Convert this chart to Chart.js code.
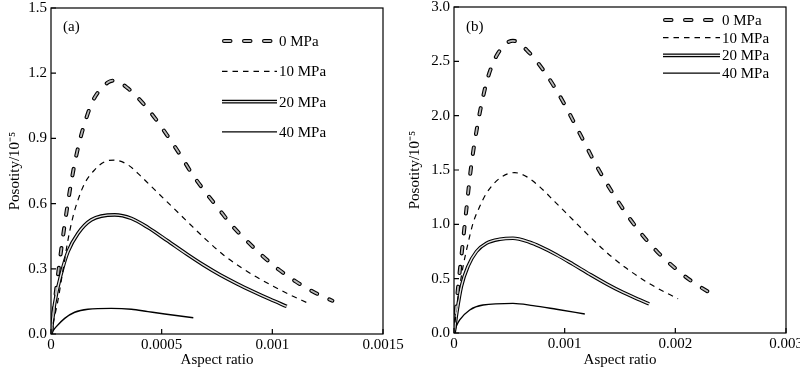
<!DOCTYPE html>
<html>
<head>
<meta charset="utf-8">
<script src="https://cdn.jsdelivr.net/npm/chart.js@4/dist/chart.umd.min.js"></script>
<style>
  body { margin: 0; background: #fff; overflow: hidden; }
  canvas { position: absolute; top: 0; }
  #left { left: 0; }
  #right { left: 400px; }
</style>
</head>
<body>
<canvas id="left" width="420" height="370"></canvas>
<canvas id="right" width="400" height="370"></canvas>
<script>
const names = ['0 MPa', '10 MPa', '20 MPa', '40 MPa'];

// panel (a)
const aX0 = [0, 0.0000136, 0.000024, 0.0000393, 0.0000497, 0.0000648, 0.0000843, 0.000107, 0.00013, 0.00016, 0.00019, 0.000258, 0.000288, 0.000348, 0.000416, 0.000476, 0.000529, 0.000589, 0.000636, 0.000696, 0.000756, 0.000816, 0.000884, 0.000956, 0.001027, 0.001107, 0.001193, 0.001271];
const aY0 = [0, 0.12, 0.21, 0.335, 0.415, 0.525, 0.655, 0.785, 0.89, 0.995, 1.075, 1.158, 1.166, 1.13, 1.061, 0.985, 0.908, 0.816, 0.739, 0.655, 0.578, 0.501, 0.429, 0.359, 0.298, 0.241, 0.19, 0.153];
const aX10 = [0, 0.000012, 0.0000316, 0.0000542, 0.0000768, 0.0000994, 0.000122, 0.000152, 0.000197, 0.000243, 0.000288, 0.000348, 0.000408, 0.000468, 0.000553, 0.000628, 0.000703, 0.000778, 0.000854, 0.000929, 0.001004, 0.00108, 0.001163];
const aY10 = [0, 0.06, 0.156, 0.294, 0.433, 0.54, 0.617, 0.693, 0.755, 0.793, 0.80, 0.778, 0.724, 0.664, 0.58, 0.505, 0.432, 0.365, 0.309, 0.262, 0.22, 0.18, 0.141];
const aX20 = [0, 0.0000166, 0.0000467, 0.0000768, 0.000122, 0.000182, 0.000288, 0.000363, 0.000438, 0.000525, 0.000613, 0.000688, 0.000764, 0.000839, 0.000914, 0.000989, 0.001065];
const aY20 = [0, 0.141, 0.279, 0.379, 0.463, 0.525, 0.548, 0.532, 0.49, 0.43, 0.368, 0.318, 0.272, 0.232, 0.195, 0.16, 0.127];
const aX40 = [0, 0.000009, 0.000024, 0.0000618, 0.000107, 0.000167, 0.000272, 0.000363, 0.000438, 0.000514, 0.000643];
const aY40 = [0, 0.015, 0.034, 0.072, 0.1, 0.114, 0.118, 0.114, 0.103, 0.092, 0.075];
const aXTicks = [0, 0.0005, 0.001, 0.0015];
const aYTicks = [0, 0.3, 0.6, 0.9, 1.2, 1.5];

// panel (b)
const bX0 = [0, 0.0000154, 0.0000362, 0.000076, 0.000112, 0.000157, 0.000217, 0.000262, 0.000307, 0.000398, 0.000533, 0.000684, 0.000805, 0.000895, 0.001001, 0.001091, 0.001182, 0.001272, 0.001378, 0.001483, 0.001588, 0.001709, 0.001839, 0.00198, 0.002131, 0.002296, 0.00234];
const bY0 = [0, 0.19, 0.415, 0.795, 1.14, 1.55, 1.94, 2.17, 2.355, 2.575, 2.689, 2.575, 2.422, 2.284, 2.10, 1.925, 1.745, 1.568, 1.38, 1.21, 1.053, 0.893, 0.745, 0.612, 0.488, 0.38, 0.355];
const bX10 = [0, 0.0000217, 0.0000515, 0.0000814, 0.000127, 0.000172, 0.000232, 0.000293, 0.000413, 0.000549, 0.000655, 0.000775, 0.00091, 0.001076, 0.001227, 0.001392, 0.001559, 0.001739, 0.00192, 0.002025];
const bY10 = [0, 0.212, 0.426, 0.61, 0.826, 1.01, 1.163, 1.286, 1.424, 1.476, 1.439, 1.345, 1.209, 1.04, 0.887, 0.73, 0.595, 0.47, 0.368, 0.315];
const bX20 = [0, 0.0000271, 0.0000669, 0.000127, 0.000203, 0.000293, 0.000413, 0.000533, 0.000684, 0.000775, 0.000926, 0.001076, 0.001227, 0.001378, 0.001528, 0.001679, 0.001763];
const bY20 = [0, 0.2, 0.43, 0.615, 0.75, 0.826, 0.863, 0.872, 0.835, 0.797, 0.72, 0.632, 0.54, 0.452, 0.373, 0.305, 0.268];
const bX40 = [0, 0.0000217, 0.0000515, 0.000142, 0.000262, 0.000533, 0.000714, 0.000926, 0.001182];
const bY40 = [0, 0.064, 0.12, 0.212, 0.258, 0.273, 0.252, 0.218, 0.175];
const bXTicks = [0, 0.001, 0.002, 0.003];
const bYTicks = [0, 0.5, 1.0, 1.5, 2.0, 2.5, 3.0];

// line looks: each series is one or two stacked strokes (outer first)
const looks = [
  [{ color: '#000', width: 4, dash: [6.5, 13.5], cap: 'round' }, { color: '#b8b8b8', width: 1.8, dash: [6.5, 13.5], cap: 'round' }],
  [{ color: '#000', width: 1.2, dash: [5.5, 5] }],
  [{ color: '#000', width: 3.6 }, { color: '#e6e6e6', width: 1.4 }],
  [{ color: '#000', width: 1.4 }]
];

const FONT = "'Liberation Serif', 'Times New Roman', serif";
Chart.defaults.font.family = FONT;
Chart.defaults.font.size = 15;
Chart.defaults.color = '#000';

function zip(xs, ys) {
  return xs.map((x, i) => ({ x: x, y: ys[i] }));
}

function makeDatasets(series) {
  const out = [];
  series.forEach((s, i) => {
    looks[i].forEach((lk, j) => {
      out.push({
        label: names[i],
        data: zip(s[0], s[1]),
        borderColor: lk.color,
        borderWidth: lk.width,
        borderDash: lk.dash || [],
        borderCapStyle: lk.cap || 'butt',
        cubicInterpolationMode: 'monotone',
        tension: 0.4,
        pointRadius: 0,
        fill: false,
        order: looks[i].length - j
      });
    });
  });
  return out;
}

const frame = {
  id: 'frame',
  afterDraw(chart, args, opts) {
    const { ctx, chartArea: a, scales: { x, y } } = chart;
    ctx.save();
    ctx.strokeStyle = '#000';
    ctx.lineWidth = 1.2;
    ctx.strokeRect(a.left, a.top, a.right - a.left, a.bottom - a.top);
    ctx.beginPath();
    x.ticks.forEach(t => {
      const px = x.getPixelForValue(t.value);
      ctx.moveTo(px, a.bottom);
      ctx.lineTo(px, a.bottom - 5);
    });
    y.ticks.forEach(t => {
      const py = y.getPixelForValue(t.value);
      ctx.moveTo(a.left, py);
      ctx.lineTo(a.left + 5, py);
    });
    ctx.stroke();

    ctx.fillStyle = '#000';
    ctx.font = '15px ' + FONT;
    ctx.textBaseline = 'alphabetic';
    ctx.fillText(opts.tag, opts.tagX, opts.tagY);

    // legend
    names.forEach((n, i) => {
      const yy = opts.legY + i * opts.legGap;
      looks[i].forEach(lk => {
        ctx.beginPath();
        ctx.strokeStyle = lk.color;
        ctx.lineWidth = lk.width;
        ctx.setLineDash(lk.dash || []);
        ctx.lineCap = lk.cap || 'butt';
        ctx.moveTo(opts.legX + (lk.cap === 'round' ? 2 : 0), yy);
        ctx.lineTo(opts.legX + opts.legLen, yy);
        ctx.stroke();
      });
      ctx.setLineDash([]);
      ctx.lineCap = 'butt';
      ctx.textBaseline = 'middle';
      ctx.fillText(n, opts.legX + opts.legLen + 2, yy + 1);
    });
    ctx.restore();
  }
};

function makeChart(id, series, xMax, xTicks, yMax, yTicks, yWidth, xHeight, pad, legend) {
  new Chart(document.getElementById(id), {
    type: 'line',
    data: { datasets: makeDatasets(series) },
    options: {
      responsive: false,
      animation: false,
      layout: { padding: pad },
      plugins: { legend: { display: false }, tooltip: { enabled: false }, frame: legend },
      scales: {
        x: {
          type: 'linear', min: 0, max: xMax,
          afterBuildTicks: s => { s.ticks = xTicks.map(v => ({ value: v })); },
          afterFit: s => { s.height = xHeight; s.paddingLeft = 0; s.paddingRight = 0; },
          grid: { display: false, drawTicks: false },
          border: { display: false },
          ticks: { autoSkip: false, maxRotation: 0, padding: 2, callback: v => String(v) },
          title: { display: true, text: 'Aspect ratio', padding: { top: 0, bottom: 1 } }
        },
        y: {
          type: 'linear', min: 0, max: yMax,
          afterBuildTicks: s => { s.ticks = yTicks.map(v => ({ value: v })); },
          afterFit: s => { s.width = yWidth; s.paddingTop = 0; s.paddingBottom = 0; },
          grid: { display: false, drawTicks: false },
          border: { display: false },
          ticks: { autoSkip: false, padding: 4, callback: v => v.toFixed(1) },
          title: { display: true, text: 'Posotity/10⁻⁵', padding: { top: 6, bottom: 0 } }
        }
      }
    },
    plugins: [frame]
  });
}

makeChart('left',
  [[aX0, aY0], [aX10, aY10], [aX20, aY20], [aX40, aY40]],
  0.0015, aXTicks, 1.5, aYTicks, 51, 36,
  { left: 0, top: 8, right: 37, bottom: 0 },
  { tag: '(a)', tagX: 63, tagY: 31, legX: 222, legY: 41, legGap: 30.3, legLen: 55 });

makeChart('right',
  [[bX0, bY0], [bX10, bY10], [bX20, bY20], [bX40, bY40]],
  0.003, bXTicks, 3.0, bYTicks, 54, 37,
  { left: 0, top: 7, right: 14, bottom: 0 },
  { tag: '(b)', tagX: 66, tagY: 31, legX: 263, legY: 20, legGap: 17.7, legLen: 57 });
</script>
</body>
</html>
